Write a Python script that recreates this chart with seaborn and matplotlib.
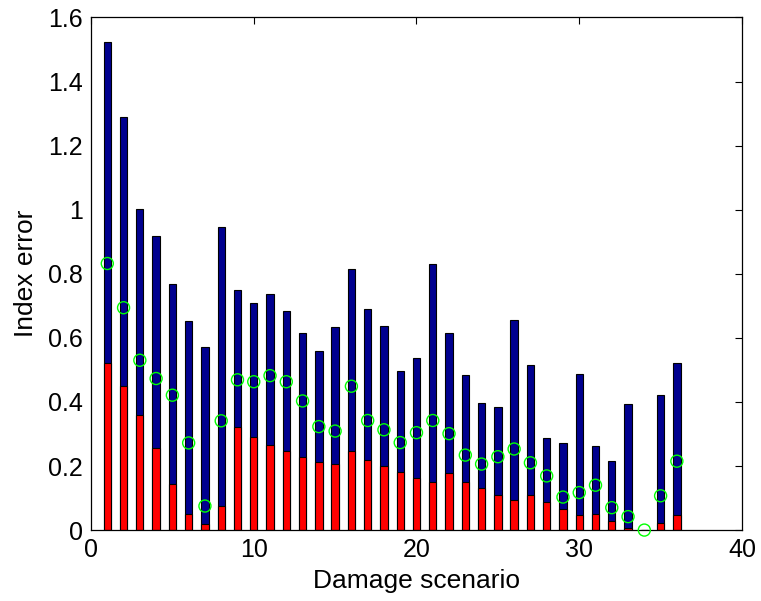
import numpy as np
import pandas as pd
import matplotlib
matplotlib.use("Agg")
import matplotlib.pyplot as plt
import seaborn as sns

scenario = list(range(1, 37))
total_error = [1.523, 1.289, 1.003, 0.919, 0.769, 0.651, 0.572, 0.947, 0.750, 0.708,
               0.736, 0.685, 0.614, 0.559, 0.634, 0.816, 0.689, 0.638, 0.497, 0.536,
               0.830, 0.614, 0.483, 0.398, 0.385, 0.656, 0.516, 0.286, 0.273, 0.488,
               0.262, 0.216, 0.393, 0.0, 0.422, 0.520]
part_error = [0.523, 0.449, 0.360, 0.257, 0.145, 0.051, 0.018, 0.075, 0.322, 0.289,
              0.267, 0.248, 0.229, 0.213, 0.205, 0.248, 0.220, 0.201, 0.182, 0.162,
              0.149, 0.177, 0.149, 0.130, 0.111, 0.093, 0.111, 0.088, 0.065, 0.046,
              0.051, 0.027, 0.008, 0.0, 0.023, 0.046]
mean_error = [0.832, 0.694, 0.530, 0.473, 0.421, 0.272, 0.075, 0.341, 0.469, 0.463,
              0.482, 0.463, 0.403, 0.323, 0.309, 0.449, 0.342, 0.313, 0.273, 0.304,
              0.342, 0.301, 0.234, 0.206, 0.229, 0.253, 0.210, 0.169, 0.103, 0.117,
              0.140, 0.070, 0.042, 0.0, 0.107, 0.215]

df = pd.DataFrame({"scenario": scenario, "total": total_error,
                   "part": part_error, "mean": mean_error})

sns.set_style("white")
plt.rcParams["font.family"] = ["Liberation Sans", "DejaVu Sans"]
plt.rcParams["text.color"] = "black"
plt.rcParams["axes.labelcolor"] = "black"
plt.rcParams["xtick.color"] = "black"
plt.rcParams["ytick.color"] = "black"

fig = plt.figure(figsize=(7.61, 6.01), dpi=100)
ax = fig.add_axes([0.1196, 0.118, 0.8554, 0.853])

sns.barplot(data=df, x="scenario", y="total", native_scale=True, width=0.45,
            color="#00008F", saturation=1, edgecolor="black", linewidth=0.8, ax=ax)
sns.barplot(data=df, x="scenario", y="part", native_scale=True, width=0.45,
            color="#FF0000", saturation=1, edgecolor="black", linewidth=0.8, ax=ax)
sns.scatterplot(data=df, x="scenario", y="mean", marker="o", s=75,
                facecolor="none", edgecolor="#00FF00", linewidth=1.0,
                clip_on=False, zorder=5, ax=ax)

ax.set_xlim(0, 40)
ax.set_ylim(0, 1.6)
ax.set_xticks([0, 10, 20, 30, 40])
ax.set_xticklabels(["0", "10", "20", "30", "40"])
yt = [0, 0.2, 0.4, 0.6, 0.8, 1.0, 1.2, 1.4, 1.6]
ax.set_yticks(yt)
ax.set_yticklabels(["0", "0.2", "0.4", "0.6", "0.8", "1", "1.2", "1.4", "1.6"])
ax.tick_params(direction="in", length=5, width=0.8, top=True, right=True,
               labelsize=18, pad=6, colors="black")
for sp in ax.spines.values():
    sp.set_visible(True)
    sp.set_color("black")
    sp.set_linewidth(0.9)
ax.set_xlabel("Damage scenario", fontsize=19, labelpad=5, color="black")
ax.set_ylabel("Index error", fontsize=19, labelpad=7, color="black")

fig.savefig("out.png", dpi=100)
